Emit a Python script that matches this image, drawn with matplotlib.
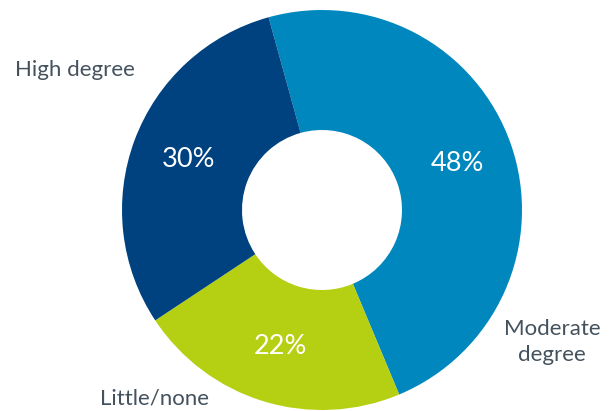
import math
import matplotlib
matplotlib.use("Agg")
import matplotlib.pyplot as plt

categories = ["Moderate\ndegree", "Little/none", "High degree"]
values = [48, 22, 30]
colors = ["#0088BE", "#B5CF13", "#00427F"]

# label anchor positions in figure pixels (x, y from bottom)
label_pos = [(552, 69), (155, 13), (75, 341)]

plt.rcParams["font.family"] = ["Lato", "DejaVu Sans"]

W, H = 613, 411
CX, CY, R = 322, 201, 200

fig = plt.figure(figsize=(W / 100, H / 100), dpi=100)
ax = fig.add_axes([0, 0, 1, 1])

wedges, texts = ax.pie(
    values,
    colors=colors,
    startangle=105.5,
    counterclock=False,
    center=(CX, CY),
    radius=R,
    wedgeprops=dict(width=120, edgecolor="none"),
    frame=True,
)
ax.set_xlim(0, W)
ax.set_ylim(0, H)
ax.set_aspect("equal")
ax.axis("off")

for w, v in zip(wedges, values):
    mid = math.radians((w.theta1 + w.theta2) / 2)
    r = 143
    ax.text(CX + r * math.cos(mid), CY + r * math.sin(mid), f"{v}%",
            ha="center", va="center", color="white", fontsize=19.5)

for name, (x, y) in zip(categories, label_pos):
    ax.text(x, y, name, ha="center", va="center", color="#44525E",
            fontsize=16, linespacing=1.4)

fig.savefig("out.png", dpi=100)
